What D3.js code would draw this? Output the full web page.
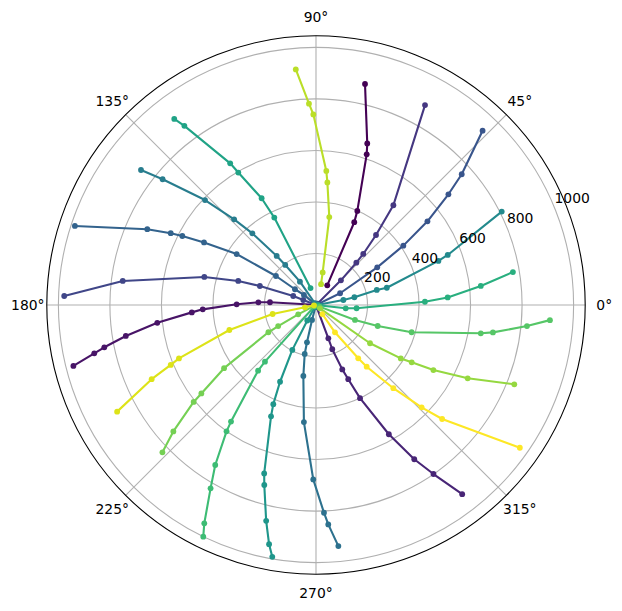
<!DOCTYPE html>
<html>
<head>
<meta charset="utf-8">
<script src="https://cdn.jsdelivr.net/npm/d3@7"></script>
<style>
  html, body { margin: 0; padding: 0; background: #ffffff; }
  svg { display: block; }
  text { font-family: "DejaVu Sans", sans-serif; }
</style>
</head>
<body>
<svg id="chart" width="622" height="611"></svg>
<script>
// ---- data (radius values, angles in degrees, colour index in viridis) ----
const seriesColorIndex = [0, 1, 2, 3, 4, 5, 6, 7, 8, 9, 10, 11, 12, 13, 14, 15, 16, 17, 18, 19];
const seriesR = [
  [88, 354, 399, 617, 658, 879],
  [8, 179, 224, 308, 440, 483, 620, 748, 838, 881, 971],
  [8, 138, 183, 270, 314, 400, 576, 710, 799, 928],
  [8, 136, 227, 270, 358, 490, 884],
  [8, 53, 95, 230, 316, 447, 756, 978],
  [8, 104, 279, 410, 541, 670, 760, 936],
  [8, 61, 102, 192, 366, 498, 584, 629, 718, 985],
  [8, 60, 149, 195, 280, 457, 677, 807, 853, 940],
  [8, 110, 196, 244, 372, 460, 593, 770, 858],
  [8, 108, 152, 243, 283, 505, 547, 807],
  [8, 69, 197, 329, 419, 466, 684, 727, 860, 946, 992],
  [69, 376, 465, 596, 643, 863, 908],
  [8, 116, 158, 423, 512, 644, 775],
  [8, 296, 340, 560, 601, 734, 821, 952, 1000],
  [15, 162, 253, 386, 649, 695, 823, 910],
  [8, 78, 168, 213, 433, 562, 606, 740, 826],
  [20, 257, 389, 433, 521, 654, 829],
  [83, 129, 345, 478, 522, 740, 782, 918],
  [8, 44, 172, 350, 571, 610, 700, 876],
  [43, 129, 264, 310, 441, 571, 660, 966]
];
const seriesTheta = [
  [60.2, 65.2, 66.3, 71.4, 72.4, 77.5],
  [173, 176.6, 177.3, 179.5, 182.2, 183.4, 186.4, 189.25, 191.3, 192.3, 194.1],
  [287, 290.3, 290.2, 292.2, 293.5, 295.3, 299.4, 302.5, 304.8, 307.7],
  [42, 44.7, 46.4, 47.2, 49.4, 52.2, 61.4],
  [157, 158.5, 158.4, 161.3, 162.8, 165.9, 172.9, 177.95],
  [24, 26.0, 31.6, 34.2, 36.9, 39.9, 41.9, 46.3],
  [139, 140.2, 143.2, 144.1, 147.3, 150.8, 152.7, 153.7, 155.8, 161.85],
  [254, 255.1, 256.4, 257.0, 259.9, 264.1, 269.1, 272.2, 273.2, 275.3],
  [122, 124.5, 127.5, 128.7, 131.6, 133.7, 136.6, 140.65, 142.35],
  [8, 10.4, 11.4, 13.9, 13.7, 19.8, 20.8, 26.7],
  [239, 240.7, 242.2, 244.9, 246.7, 248.0, 252.9, 253.97, 257.0, 258.9, 260.15],
  [107.9, 115.5, 117.0, 120.4, 121.2, 126.3, 127.3],
  [-8, -6.3, -4.6, 1.7, 3.3, 6.6, 9.5],
  [221, 228.0, 228.6, 233.9, 234.7, 237.8, 240.1, 242.9, 244.05],
  [335, 339, 341.2, 344.1, 350.25, 351.2, 354.3, 356.3],
  [206, 207.7, 209.1, 209.8, 214.5, 217.65, 218.4, 221.55, 223.8],
  [320, 324.7, 327.8, 329.1, 331.0, 334.2, 338.2],
  [76.4, 78.4, 81.4, 84.7, 85.6, 90.8, 92.0, 94.9],
  [190, 191.8, 191.7, 196.1, 201.3, 202.4, 204.3, 208.2],
  [305, 304.8, 308.4, 309.4, 312.9, 315.9, 317.9, 325.0]
];
const radialTicks = [200, 400, 600, 800, 1000];
const radialTickLabels = ["200", "400", "600", "800", "1000"];
const angleTicks = [0, 45, 90, 135, 180, 225, 270, 315];
const angleTickLabels = ["0°", "45°", "90°", "135°", "180°", "225°", "270°", "315°"];
const rMax = 1045;
const rLabelAngle = 22.5;

// ---- layout ----
const cx = 316, cy = 305, R = 269.2;
const svg = d3.select("#chart");
svg.append("rect").attr("width", 622).attr("height", 611).attr("fill", "#ffffff");
const g = svg.append("g").attr("transform", `translate(${cx},${cy})`);

const rScale = d3.scaleLinear().domain([0, rMax]).range([0, R]);
// angle in degrees (counter-clockwise from east) -> d3 radial angle (clockwise from north)
const aScale = d3.scaleLinear().domain([0, 360]).range([Math.PI / 2, Math.PI / 2 - 2 * Math.PI]);
const px = (r, t) => rScale(r) * Math.sin(aScale(t));
const py = (r, t) => -rScale(r) * Math.cos(aScale(t));

// grid circles
g.selectAll("circle.grid").data(radialTicks).join("circle")
  .attr("class", "grid").attr("r", d => rScale(d))
  .attr("fill", "none").attr("stroke", "#b0b0b0").attr("stroke-width", 1.1);
// grid spokes
g.selectAll("line.spoke").data(angleTicks).join("line")
  .attr("class", "spoke")
  .attr("x1", 0).attr("y1", 0)
  .attr("x2", d => px(rMax, d)).attr("y2", d => py(rMax, d))
  .attr("stroke", "#b0b0b0").attr("stroke-width", 1.1);

// data lines
const radialLine = d3.lineRadial()
  .angle(d => aScale(d[1]))
  .radius(d => rScale(d[0]));

const seriesData = seriesR.map((rs, i) => rs.map((r, j) => [r, seriesTheta[i][j]]));
const colorOf = i => d3.interpolateViridis(seriesColorIndex[i] / 19);

const sg = g.selectAll("g.series").data(seriesData).join("g").attr("class", "series");
sg.append("path")
  .attr("d", d => radialLine(d))
  .attr("fill", "none")
  .attr("stroke", (d, i) => colorOf(i))
  .attr("stroke-width", 2.1)
  .attr("stroke-linejoin", "round")
  .attr("stroke-linecap", "butt");
sg.each(function (d, i) {
  d3.select(this).selectAll("circle").data(d).join("circle")
    .attr("cx", p => px(p[0], p[1]))
    .attr("cy", p => py(p[0], p[1]))
    .attr("r", 2.9)
    .attr("fill", colorOf(i));
});

// outer frame
g.append("circle").attr("r", R).attr("fill", "none").attr("stroke", "#000000").attr("stroke-width", 1.1);

// angle labels
g.selectAll("text.alab").data(angleTicks).join("text")
  .attr("class", "alab")
  .attr("x", d => (R + 19) * Math.cos(d * Math.PI / 180))
  .attr("y", d => -(R + 19) * Math.sin(d * Math.PI / 180))
  .attr("text-anchor", "middle")
  .attr("dominant-baseline", "central")
  .attr("font-size", 13.9)
  .text((d, i) => angleTickLabels[i]);

// radial labels
g.selectAll("text.rlab").data(radialTicks).join("text")
  .attr("class", "rlab")
  .attr("x", d => px(d, rLabelAngle) + 0.5)
  .attr("y", d => py(d, rLabelAngle) - 3)
  .attr("text-anchor", "start")
  .attr("font-size", 13.9)
  .text((d, i) => radialTickLabels[i]);
</script>
</body>
</html>
